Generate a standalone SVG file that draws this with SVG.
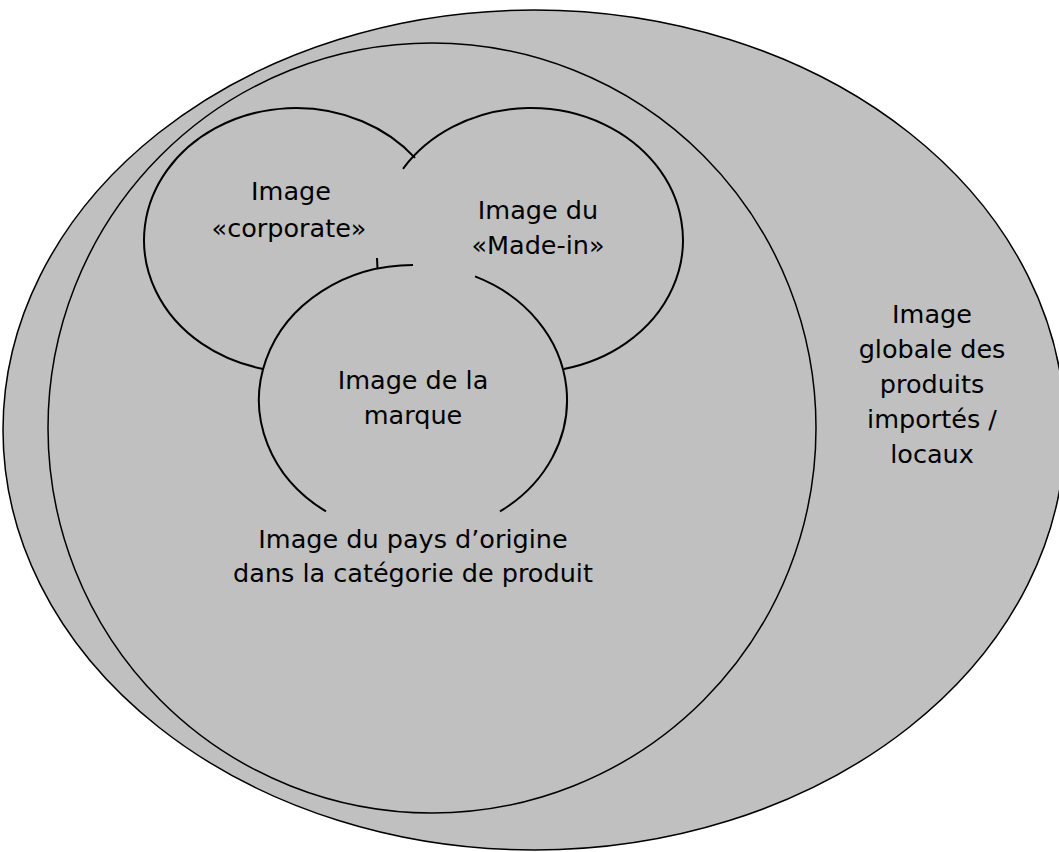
<svg xmlns="http://www.w3.org/2000/svg" width="1059" height="852" viewBox="0 0 1059 852">
  <style>
    .area { fill: #c0c0c0; stroke: #000; stroke-width: 1.5; }
    .arc { fill: none; stroke: #000; stroke-width: 2; }
    .lbl { font-family: "DejaVu Sans", Verdana, sans-serif; font-size: 25.5px; fill: #000; text-anchor: middle; }
  </style>
  <rect width="1059" height="852" fill="#fff"/>
  <g id="global">
    <ellipse class="area" cx="534" cy="430" rx="531" ry="420"/>
    <text class="lbl" x="932" y="323">Image</text>
    <text class="lbl" x="932" y="358">globale des</text>
    <text class="lbl" x="932" y="393">produits</text>
    <text class="lbl" x="932" y="428">importés /</text>
    <text class="lbl" x="932" y="463">locaux</text>
  </g>
  <g id="country">
    <ellipse class="area" cx="432" cy="428" rx="384" ry="385"/>
    <text class="lbl" x="413" y="548">Image du pays d’origine</text>
    <text class="lbl" x="413" y="582">dans la catégorie de produit</text>
  </g>
  <g id="corporate">
    <path class="arc" d="M415,157.9 A152,132 0 1 0 263,368.9"/>
    <text class="lbl" x="291" y="200">Image</text>
    <text class="lbl" x="289" y="237">«corporate»</text>
  </g>
  <g id="madein">
    <path class="arc" d="M403,168.8 A152,132 0 1 1 564,368.9"/>
    <text class="lbl" x="538" y="219">Image du</text>
    <text class="lbl" x="538" y="254">«Made-in»</text>
  </g>
  <g id="brand">
    <path class="arc" d="M413,265 A154,135 0 0 0 326,511.4"/>
    <path class="arc" d="M500,511.4 A154,135 0 0 0 475,276.4"/>
    <path class="arc" d="M377,258 L377.5,269"/>
    <text class="lbl" x="413" y="389">Image de la</text>
    <text class="lbl" x="413" y="424">marque</text>
  </g>
  <g id="connectors"></g>
</svg>
